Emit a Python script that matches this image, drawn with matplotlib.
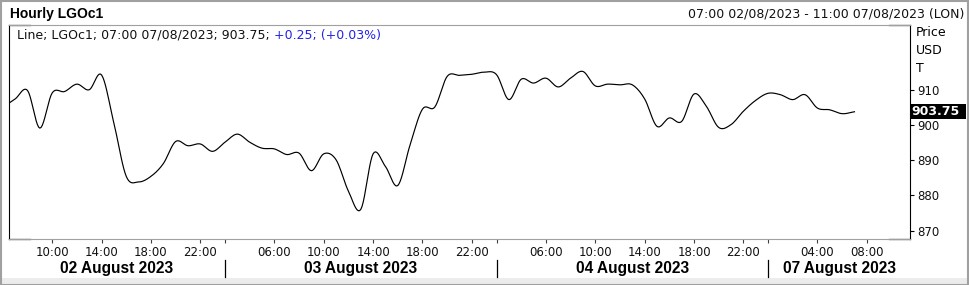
import numpy as np
import matplotlib
matplotlib.use("Agg")
import matplotlib.pyplot as plt
from matplotlib.patches import Rectangle
from matplotlib.transforms import blended_transform_factory

# trading days shown on the axis and their hourly session bars
day_labels = ["02 August 2023", "03 August 2023", "04 August 2023", "07 August 2023"]
day_first = [2, 2, 2, 0]
day_last = [23, 23, 23, 11]
view_start = (0, 7)  # 07:00 02/08/2023

# hourly LGOc1 closes, from 06:00 02/08 to 07:00 07/08
price = [905.0, 907.4, 909.8, 899.1, 909.1, 909.5, 911.6, 910.0, 914.2, 900.5,
         885.4, 883.8, 885.4, 889.0, 895.3, 894.1, 894.6, 892.5, 895.1, 897.4,
         895.1, 893.4, 893.2, 891.6, 892.0, 887.0, 891.8, 890.1, 881.2, 876.0,
         891.8, 888.2, 882.8, 894.4, 904.5, 905.1, 913.8, 914.1, 914.4, 915.0,
         914.3, 907.2, 913.0, 911.9, 913.3, 910.8, 913.3, 915.2, 911.1, 911.6,
         911.4, 911.4, 907.4, 899.6, 902.0, 901.0, 908.8, 905.3, 899.3, 900.1,
         903.9, 907.0, 909.0, 908.6, 907.2, 908.6, 904.8, 904.3, 903.2, 903.75]
last_price = 903.75
y_ticks = [870, 880, 890, 900, 910]

W, H = 969, 285


def px(x):
    return x / W


def py(y):
    return 1 - y / H


def catmull(x, y, n=10):
    """smooth line through the hourly points"""
    x = np.asarray(x, float)
    y = np.asarray(y, float)
    xp = np.concatenate([[2 * x[0] - x[1]], x, [2 * x[-1] - x[-2]]])
    yp = np.concatenate([[2 * y[0] - y[1]], y, [2 * y[-1] - y[-2]]])
    xs, ys = [], []
    t = np.linspace(0, 1, n, endpoint=False)
    for i in range(1, len(xp) - 2):
        for arr, out in ((xp, xs), (yp, ys)):
            p0, p1, p2, p3 = arr[i - 1:i + 3]
            out.extend(0.5 * (2 * p1 + (-p0 + p2) * t
                              + (2 * p0 - 5 * p1 + 4 * p2 - p3) * t ** 2
                              + (-p0 + 3 * p1 - 3 * p2 + p3) * t ** 3))
    xs.append(x[-1])
    ys.append(y[-1])
    return np.array(xs), np.array(ys)


# slot index for each session bar (gaps removed)
slots = [(d, h) for d in range(len(day_labels))
         for h in range(day_first[d], day_last[d] + 1)]
offset = slots.index(view_start)
pos = {s: i - offset for i, s in enumerate(slots)}
series_slots = slots[offset - 1:offset - 1 + len(price)]
xv = [pos[s] for s in series_slots]
x_right = pos[(len(day_labels) - 1, day_last[-1])] + 0.5

fig = plt.figure(figsize=(W / 100, H / 100), dpi=100)
fig.patch.set_facecolor("white")

ax = fig.add_axes([px(9), py(239), px(910 - 9), (239 - 25) / H])
sx, sy = catmull(xv, price)
ax.plot(sx, sy, color="black", lw=0.85)
ax.set_xlim(-0.5, x_right)
ax.set_ylim(867.6, 928.4)

# frame: gray top/bottom, black sides with short black corners
for side in ["top", "bottom"]:
    ax.spines[side].set_color("#a0a0a0")
    ax.spines[side].set_linewidth(0.8)
for side in ["left", "right"]:
    ax.spines[side].set_color("black")
    ax.spines[side].set_linewidth(0.8)
c = 21 / 901
for yy in (0, 1):
    ax.plot([0, c], [yy, yy], color="black", lw=0.9, transform=ax.transAxes, clip_on=False)
    ax.plot([1 - c, 1], [yy, yy], color="black", lw=0.9, transform=ax.transAxes, clip_on=False)

# x ticks: every four bars from each day's open, plus day separators
tick_pos, tick_lab, seps = [], [], []
for (d, h) in slots:
    p = pos[(d, h)]
    if p < -0.5 or p > x_right:
        continue
    if h == day_first[d]:
        if d > 0:
            tick_pos.append(p)
            tick_lab.append("")
            seps.append(p)
    elif (h - day_first[d]) % 4 == 0:
        tick_pos.append(p)
        tick_lab.append(f"{h:02d}:00")
ax.set_xticks(tick_pos)
ax.set_xticklabels(tick_lab)
ax.tick_params(axis="x", length=3, width=0.8, color="#404040", pad=2,
               labelsize=8.5, labelcolor="#111111")

ax.yaxis.tick_right()
ax.set_yticks(y_ticks)
ax.set_yticklabels([str(v) for v in y_ticks])
ax.tick_params(axis="y", length=3, width=0.8, color="black", pad=2.5,
               labelsize=8.5, labelcolor="#111111")

# date labels and separators under the hour labels
tr = blended_transform_factory(ax.transData, fig.transFigure)
bounds = [-0.5] + seps + [x_right]
for i, lab in enumerate(day_labels):
    ax.text((bounds[i] + bounds[i + 1]) / 2, py(268), lab, transform=tr,
            ha="center", va="center", fontsize=11.2, fontweight="bold",
            family="Liberation Sans", clip_on=False)
for s in seps:
    ax.plot([s, s], [py(260), py(277)], color="black", lw=0.9,
            transform=tr, clip_on=False)

# header texts
fig.text(px(10), py(14), "Hourly LGOc1", ha="left", va="center",
         fontsize=10, fontweight="bold", family="Liberation Sans")
fig.text(px(964), py(14), "07:00 02/08/2023 - 11:00 07/08/2023 (LON)",
         ha="right", va="center", fontsize=9, color="#111111")
leg = fig.text(px(17), py(35), "Line; LGOc1; 07:00 07/08/2023; 903.75; ",
               ha="left", va="center", fontsize=9, color="#111111")
fig.canvas.draw()
ax.annotate("+0.25; (+0.03%)", xy=(1, 0.5), xycoords=leg, ha="left",
            va="center", fontsize=9, color="#2323e6")

for i, lab in enumerate(["Price", "USD", "T"]):
    fig.text(px(916), py(33 + 18 * i), lab, ha="left", va="center", fontsize=9)

# last price box, flush against the right spine
ptr = blended_transform_factory(fig.transFigure, ax.transData)
box_h = 15.5 / 3.525
ax.add_patch(Rectangle((px(910), last_price - box_h / 2), px(56), box_h,
                       transform=ptr, fc="black", ec="none", clip_on=False, zorder=5))
ax.text(px(911), last_price, f"{last_price:.2f}", transform=ptr,
        ha="left", va="center", fontsize=9, fontweight="bold", color="white",
        clip_on=False, zorder=6)

# bottom strip and outer border
fig.patches.append(Rectangle((0, 0), 1, 7 / H, transform=fig.transFigure,
                             fc="#ececec", ec="none", zorder=-1))
fig.patches.append(Rectangle((0.5 / W, 0.5 / H), 1 - 1.5 / W, 1 - 1.5 / H,
                             transform=fig.transFigure, fc="none",
                             ec="#a0a0a0", lw=1.5))

fig.savefig("out.png", dpi=100)
